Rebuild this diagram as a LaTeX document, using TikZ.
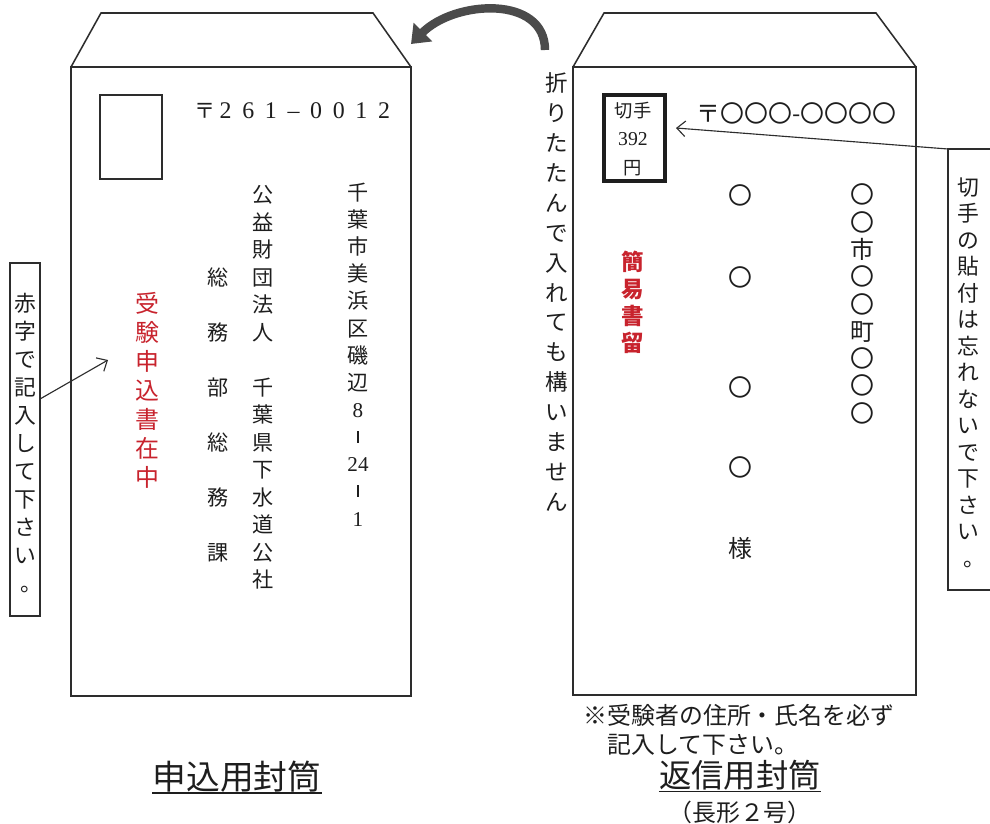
\documentclass[tikz,border=0pt]{standalone}
\usepackage{fontspec}
\setmainfont{Noto Sans CJK JP}
\newfontfamily\cjk{Noto Sans CJK JP}
\newfontfamily\serifdig{Liberation Serif}
\usetikzlibrary{arrows.meta}
\definecolor{ink}{RGB}{30,30,30}
\definecolor{lineink}{RGB}{45,45,45}
\definecolor{redink}{RGB}{200,35,45}
\definecolor{arcgray}{RGB}{75,75,75}
\newcommand\dg[1]{\makebox[16.1pt]{#1}}
\newcommand\vbar{\raisebox{0.1em}{\rule{0.9pt}{0.55em}}}
\begin{document}
\begin{tikzpicture}[x=0.025cm, y=-0.025cm,
  env/.style={draw=lineink, line width=1.1pt},
  callout/.style={draw=lineink, line width=0.9pt},
  pointer/.style={draw=lineink, line width=0.8pt, -{Straight Barb[length=6pt,width=11pt]}},
  vcol/.style n args={2}{inner sep=0pt, align=center, text=ink, font=\cjk\fontsize{#1}{#2}\selectfont},
  redcol/.style n args={2}{inner sep=0pt, align=center, text=redink, font=\cjk\fontsize{#1}{#2}\selectfont},
  plain/.style={inner sep=0pt, text=ink, font=\cjk\fontsize{#1}{#1}\selectfont}
]
\fill[white] (0,0) rectangle (990,823);
\useasboundingbox (0,0) rectangle (990,823);

% ---------------- left envelope ----------------
\draw[env] (71,67) -- (101,13) -- (373,13) -- (411,67);
\draw[env] (71,67) rectangle (411,696);
\node[env, minimum width=1.55cm, minimum height=2.1cm, inner sep=0pt] (stampL) at (131,137) {};
\node[plain=15pt] (zipmarkL) at (205,111) {〒};
\node[inner sep=0pt, text=ink, anchor=west, font=\serifdig\fontsize{17pt}{17pt}\selectfont] (zipL) at (214,111)
  {\dg{2}\dg{6}\dg{1}\dg{–}\dg{0}\dg{0}\dg{1}\dg{2}};

\node[vcol={15pt}{19.3pt}] (addrL1) at (358,354.5)
  {千\\葉\\市\\美\\浜\\区\\磯\\辺\\{\serifdig 8}\\\vbar\\{\serifdig 24}\\\vbar\\{\serifdig 1}};
\node[vcol={15pt}{19.56pt}] (addrL2) at (263,387.5)
  {公\\益\\財\\団\\法\\人\\　\\千\\葉\\県\\下\\水\\道\\公\\社};
\node[vcol={15pt}{19.5pt}] (addrL3) at (218,415)
  {総\\　\\務\\　\\部\\　\\総\\　\\務\\　\\課};
\node[redcol={17pt}{20.6pt}] (redL) at (147,390)
  {受\\験\\申\\込\\書\\在\\中};

% left callout
\node[callout, minimum width=0.75cm, minimum height=8.825cm, inner sep=0pt] (lbox) at (25,439.5) {};
\node[vcol={15.5pt}{19.9pt}] (lnote) at (25,443)
  {赤\\字\\で\\記\\入\\し\\て\\下\\さ\\い\\\hspace*{0.6em}。};
\coordinate (lfrom) at (40,399);
\coordinate (lto) at (108,360);
\draw[pointer] (lfrom) -- (lto);

% ---------------- fold note + arrow ----------------
\node[vcol={16pt}{21.3pt}] (fold) at (557,292)
  {折\\り\\た\\た\\ん\\で\\入\\れ\\て\\も\\構\\い\\ま\\せ\\ん};
\draw[arcgray, line width=6pt, -{Triangle[length=12pt,width=18pt]}]
  (545,50) .. controls (545,-5) and (455,0) .. (411,44);

% ---------------- right envelope ----------------
\draw[env] (573,67) -- (604,13) -- (876,13) -- (916,67);
\draw[env] (573,67) rectangle (916,695);
\node[draw=ink, line width=2.8pt, minimum width=1.525cm, minimum height=2.15cm, inner sep=0pt] (stampR) at (634.5,138) {};
\node[vcol={13pt}{20.3pt}] (stampRtext) at (633,139)
  {切手\\{\serifdig\fontsize{14pt}{20.3pt}\selectfont 392}\\円};
\node[plain=17pt] (zipR) at (796.5,113) {〒〇〇〇-〇〇〇〇};

\node[vcol={17pt}{19.4pt}] (addrR1) at (862,304)
  {〇\\〇\\市\\〇\\〇\\町\\〇\\〇\\〇};
\foreach \yy/\ch [count=\i] in {195/〇, 277/〇, 387/〇, 467/〇, 548/様}
  \node[plain=17pt] (addrR2-\i) at (740,\yy) {\ch};
\node[redcol={16pt}{19.2pt}, font=\cjk\bfseries\fontsize{16pt}{19.2pt}\selectfont] (redR) at (633,302.5) {簡\\易\\書\\留};

% right callout
\draw[callout] (990,149) -- (948,149) -- (948,590) -- (990,590);
\node[vcol={15.5pt}{18.85pt}] (rnote) at (968,372.5)
  {切\\手\\の\\貼\\付\\は\\忘\\れ\\な\\い\\で\\下\\さ\\い\\\hspace*{0.6em}。};
\coordinate (rfrom) at (948,149);
\coordinate (rto) at (676,128);
\draw[pointer] (rfrom) -- (rto);

% ---------------- captions ----------------
\node[inner sep=0pt, align=left, text=ink, font=\cjk\fontsize{17pt}{20.5pt}\selectfont] (noteR) at (739,730)
  {※受験者の住所・氏名を必ず\\　記入して下さい。};
\node[plain=24pt] (titleL) at (237,777) {申込用封筒};
\draw[ink, line width=1pt] (titleL.south west) -- (titleL.south east);
\node[plain=23pt] (titleR) at (740,775) {返信用封筒};
\draw[ink, line width=1pt] ([yshift=-1pt]titleR.south west) -- ([yshift=-1pt]titleR.south east);
\node[plain=17pt] (sizeR) at (740,812) {（長形２号）};
\end{tikzpicture}
\end{document}
